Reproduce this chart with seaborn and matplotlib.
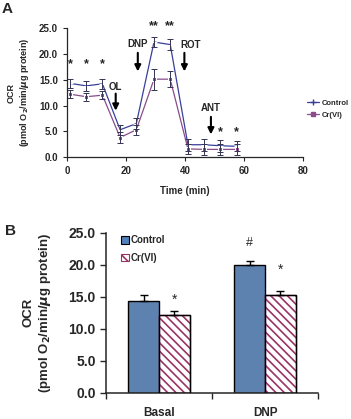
import numpy as np
import pandas as pd
import matplotlib
matplotlib.use('Agg')
import matplotlib.pyplot as plt
import seaborn as sns

# Panel A: OCR time course
time_min = [1, 6.5, 12, 18, 23.5, 29.5, 35, 41, 46.5, 52, 57.5]
control_ocr = [14.3, 13.8, 14.2, 5.3, 6.5, 22.3, 21.8, 2.4, 2.4, 2.2, 2.1]
control_err = [0.9, 1.0, 1.0, 1.0, 1.0, 1.0, 1.0, 1.2, 1.2, 1.2, 1.0]
crvi_ocr = [12.2, 11.7, 12.0, 3.8, 5.3, 15.1, 15.1, 1.6, 1.5, 1.5, 1.5]
crvi_err = [0.8, 0.8, 0.8, 1.0, 1.0, 2.0, 1.6, 1.0, 1.0, 1.0, 1.0]

# Panel B: Basal vs DNP
conditions = ['Basal', 'DNP']
bar_control = [14.35, 20.0]
bar_control_err = [0.9, 0.6]
bar_crvi = [12.1, 15.3]
bar_crvi_err = [0.75, 0.6]

sns.set_style('ticks')
plt.rcParams['font.family'] = ['Liberation Sans', 'DejaVu Sans']
plt.rcParams['font.weight'] = 'bold'
plt.rcParams['axes.labelweight'] = 'bold'
plt.rcParams['hatch.linewidth'] = 1.2

ctrl_color = '#3a3f9a'
cr_color = '#8a4c8c'
blue = '#4f81bd'
maroon = '#993366'

fig = plt.figure(figsize=(3.51, 4.19), dpi=100)
axA = fig.add_axes([0.191, 0.625, 0.672, 0.308])
axB = fig.add_axes([0.302, 0.063, 0.604, 0.381])

# ---- Panel A ----
sns.lineplot(x=time_min, y=control_ocr, color=ctrl_color, marker='+',
             markersize=4, linewidth=0.9, ax=axA)
sns.lineplot(x=time_min, y=crvi_ocr, color=cr_color, marker='s',
             markersize=3, linewidth=0.9, ax=axA)
axA.errorbar(time_min, control_ocr, yerr=control_err, fmt='none',
             ecolor='#333355', elinewidth=0.7, capsize=2, capthick=0.7)
axA.errorbar(time_min, crvi_ocr, yerr=crvi_err, fmt='none',
             ecolor='#333355', elinewidth=0.7, capsize=2, capthick=0.7)
axA.set_xlim(0, 80)
axA.set_ylim(0, 25)
axA.set_xticks([0, 20, 40, 60, 80])
axA.set_yticks([0, 5, 10, 15, 20, 25])
axA.set_yticklabels([f'{v:.1f}' for v in [0, 5, 10, 15, 20, 25]])
axA.tick_params(labelsize=7, length=3, width=0.8)
for lab in axA.get_xticklabels() + axA.get_yticklabels():
    lab.set_fontweight('bold')
axA.set_xlabel('Time (min)', fontsize=7, labelpad=7)
axA.set_ylabel('OCR\n(pmol O$_2$/min/$\\mu$g protein)', fontsize=6.5, labelpad=6)
sns.despine(ax=axA)
for sp in axA.spines.values():
    sp.set_linewidth(0.9)

# stars and drug arrows
for t in time_min[:3]:
    axA.text(t, 18.0, '*', ha='center', va='center', fontsize=9)
for t in time_min[5:7]:
    axA.text(t, 25.4, '**', ha='center', va='center', fontsize=9, clip_on=False)
for t in time_min[9:]:
    axA.text(t, 4.8, '*', ha='center', va='center', fontsize=9)
# name, arrow x, text x, text y, arrow start, arrow tip
drugs = [('OL', 16.5, 16.5, 13.5, 12.3, 9.0),
         ('DNP', 24.0, 24.0, 22.0, 20.2, 16.6),
         ('ROT', 39.8, 41.8, 21.8, 20.2, 16.6),
         ('ANT', 48.8, 48.8, 9.6, 7.8, 4.4)]
for name, t, tx, ytxt, ystart, ytip in drugs:
    axA.text(tx, ytxt, name, ha='center', va='center', fontsize=7)
    axA.annotate('', xy=(t, ytip), xytext=(t, ystart),
                 arrowprops=dict(arrowstyle='-|>', color='black', lw=1.5,
                                 mutation_scale=9, shrinkA=0, shrinkB=0))

handles = [
    plt.Line2D([], [], color=ctrl_color, marker='+', markersize=4, lw=0.9),
    plt.Line2D([], [], color=cr_color, marker='s', markersize=3, lw=0.9),
]
fig.legend(handles, ['Control', 'Cr(VI)'], loc='center left',
           bbox_to_anchor=(0.855, 0.74), frameon=False, fontsize=5.5,
           handlelength=1.6, handletextpad=0.3, labelspacing=0.6)

# ---- Panel B ----
df_b = pd.DataFrame({
    'cond': conditions * 2,
    'ocr': bar_control + bar_crvi,
    'group': ['Control'] * 2 + ['Cr(VI)'] * 2,
})
sns.barplot(data=df_b, x='cond', y='ocr', hue='group',
            palette={'Control': blue, 'Cr(VI)': 'white'},
            width=0.58, edgecolor='black', linewidth=1.0, errorbar=None,
            ax=axB, legend=False)
patches = axB.patches[:4]
ctrl_bars = patches[:2]
cr_bars = patches[2:4]
for p in cr_bars:
    p.set_hatch('\\\\\\\\')
    p.set_edgecolor(maroon)
ctrl_x = [p.get_x() + p.get_width() / 2 for p in ctrl_bars]
cr_x = [p.get_x() + p.get_width() / 2 for p in cr_bars]
axB.errorbar(ctrl_x, bar_control, yerr=[[0, 0], bar_control_err], fmt='none',
             ecolor='black', elinewidth=1.0, capsize=3, capthick=1.0)
axB.errorbar(cr_x, bar_crvi, yerr=[[0, 0], bar_crvi_err], fmt='none',
             ecolor='black', elinewidth=1.0, capsize=3, capthick=1.0)
# black outline on top of the hatched bars
for p in cr_bars:
    axB.add_patch(plt.Rectangle((p.get_x(), 0), p.get_width(), p.get_height(),
                                fill=False, edgecolor='black', lw=1.0, zorder=3))

axB.text(cr_x[0], bar_crvi[0] + bar_crvi_err[0] + 1.7, '*', ha='center', va='center', fontsize=10, fontweight='normal')
axB.text(ctrl_x[1], bar_control[1] + bar_control_err[1] + 2.8, '#', ha='center', va='center', fontsize=9, fontweight='normal')
axB.text(cr_x[1], bar_crvi[1] + bar_crvi_err[1] + 3.3, '*', ha='center', va='center', fontsize=10, fontweight='normal')

axB.set_xlim(-0.5, 1.5)
axB.set_ylim(0, 25)
axB.set_yticks([0, 5, 10, 15, 20, 25])
axB.set_yticklabels([f'{v:.1f}' for v in [0, 5, 10, 15, 20, 25]])
axB.set_xticks([-0.5, 0.5, 1.5])
axB.set_xticklabels(['', '', ''])
for i, c in enumerate(conditions):
    axB.text(i, -2.3, c, ha='center', va='top', fontsize=8.5, fontweight='bold')
axB.tick_params(labelsize=10, length=4, width=1.0)
for lab in axB.get_yticklabels():
    lab.set_fontweight('bold')
axB.set_xlabel('')
axB.set_ylabel('OCR\n(pmol O$_2$/min/$\\mu$g protein)', fontsize=9.5, labelpad=11)
sns.despine(ax=axB)
for sp in axB.spines.values():
    sp.set_linewidth(1.1)

legB = [
    plt.Rectangle((0, 0), 1, 1, facecolor=blue, edgecolor='black', lw=0.8),
    plt.Rectangle((0, 0), 1, 1, facecolor='white', edgecolor=maroon, hatch='\\\\\\\\', lw=0.8),
]
axB.legend(legB, ['Control', 'Cr(VI)'], loc='upper left', bbox_to_anchor=(0.03, 1.04),
           frameon=False, fontsize=7, handlelength=0.8, handleheight=0.8,
           handletextpad=0.2, labelspacing=0.8)

fig.text(0.005, 0.995, 'A', fontsize=11, fontweight='bold', va='top')
fig.text(0.015, 0.465, 'B', fontsize=11, fontweight='bold', va='top')

fig.savefig('out.png', dpi=100)
